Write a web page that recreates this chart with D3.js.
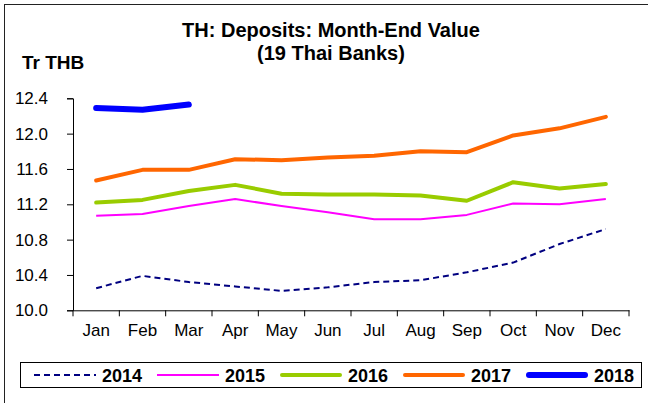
<!DOCTYPE html>
<html><head><meta charset="utf-8">
<script src="https://cdn.jsdelivr.net/npm/d3@7"></script>
<style>
html,body{margin:0;padding:0;background:#fff;}
svg{display:block;font-family:Arial,"Liberation Sans",sans-serif;}
</style></head>
<body><svg id="c" width="648" height="403"></svg>
<script>
const months = ["Jan","Feb","Mar","Apr","May","Jun","Jul","Aug","Sep","Oct","Nov","Dec"];
const yTicks = [10.0,10.4,10.8,11.2,11.6,12.0,12.4];
const years = ["2014","2015","2016","2017","2018"];
const v2014 = [10.25,10.39,10.32,10.27,10.22,10.26,10.32,10.34,10.43,10.54,10.75,10.92];
const v2015 = [11.07,11.09,11.18,11.26,11.18,11.11,11.03,11.03,11.08,11.21,11.20,11.26];
const v2016 = [11.22,11.25,11.35,11.42,11.32,11.31,11.31,11.30,11.24,11.45,11.38,11.43];
const v2017 = [11.47,11.59,11.59,11.71,11.70,11.73,11.75,11.80,11.79,11.98,12.06,12.19];
const v2018 = [12.29,12.27,12.33];

const series = [
  {name:years[0], values:v2014, color:"#000080", width:2, dash:"6,4", cap:"butt"},
  {name:years[1], values:v2015, color:"#FF00FF", width:2, dash:null, cap:"butt"},
  {name:years[2], values:v2016, color:"#99CC00", width:4, dash:null, cap:"round"},
  {name:years[3], values:v2017, color:"#FF6600", width:4, dash:null, cap:"round"},
  {name:years[4], values:v2018, color:"#0000FF", width:6, dash:null, cap:"round"}
];

const FONT = "Arial, 'Liberation Sans', sans-serif";
const svg = d3.select("#c");
// outer frame
svg.append("rect").attr("x",4.5).attr("y",4.5).attr("width",660).attr("height",420)
  .attr("fill","none").attr("stroke","#222").attr("stroke-width",1);

const L=73, R=629, T=98.3, B=310.3;
const x = d3.scaleBand().domain(months).range([L,R]);
const y = d3.scaleLinear().domain([10,12.4]).range([B,T]);

// title
const title = svg.append("text").attr("text-anchor","middle").attr("font-weight","bold")
  .attr("font-size",20).attr("fill","#000");
title.append("tspan").attr("x",331).attr("y",37).text("TH: Deposits: Month-End Value");
title.append("tspan").attr("x",331).attr("y",60).text("(19 Thai Banks)");

svg.append("text").attr("x",22).attr("y",69).attr("font-weight","bold").attr("font-size",19)
  .text("Tr THB");

// y axis
const yAxis = d3.axisLeft(y).tickValues(yTicks).tickFormat(d3.format(".1f")).tickSize(6).tickPadding(19);
const gy = svg.append("g").attr("transform",`translate(${L},0)`).call(yAxis);
gy.select(".domain").attr("stroke","#000");
gy.selectAll(".tick line").attr("stroke","#000");
gy.selectAll(".tick text").attr("font-size",17).attr("fill","#000").attr("font-family",FONT);

// x axis
const xAxis = d3.axisBottom(x).tickSize(0).tickPadding(14);
const gx = svg.append("g").attr("transform",`translate(0,${B})`).call(xAxis);
gx.select(".domain").attr("stroke","#000");
gx.selectAll(".tick text").attr("font-size",17).attr("fill","#000").attr("font-family",FONT);
// boundary ticks
const bounds = months.map(m=>x(m)).concat([R]);
svg.append("g").selectAll("line").data(bounds).join("line")
  .attr("x1",d=>d).attr("x2",d=>d).attr("y1",B).attr("y2",B+6).attr("stroke","#000");

// lines
const line = d3.line().x((d,i)=>x(months[i])+x.bandwidth()/2).y(d=>y(d));
series.forEach(s=>{
  svg.append("path").datum(s.values).attr("d",line).attr("fill","none")
    .attr("stroke",s.color).attr("stroke-width",s.width)
    .attr("stroke-dasharray",s.dash).attr("stroke-linecap",s.cap).attr("stroke-linejoin","round");
});

// legend
const lg = svg.append("g");
lg.append("rect").attr("x",20.5).attr("y",362.5).attr("width",621).attr("height",25)
  .attr("fill","#fff").attr("stroke","#000").attr("stroke-width",1);
const lx = d3.scalePoint().domain(years).range([34,526]);
series.forEach(s=>{
  const x0 = lx(s.name);
  lg.append("line").attr("x1",x0+(s.cap==="round"?s.width/2:0)).attr("x2",x0+62-(s.cap==="round"?s.width/2:0))
    .attr("y1",375).attr("y2",375).attr("stroke",s.color).attr("stroke-width",s.width)
    .attr("stroke-dasharray",s.dash).attr("stroke-linecap",s.cap);
  lg.append("text").attr("x",x0+68).attr("y",381.5).attr("font-weight","bold").attr("font-size",18)
    .text(s.name);
});
</script></body></html>
